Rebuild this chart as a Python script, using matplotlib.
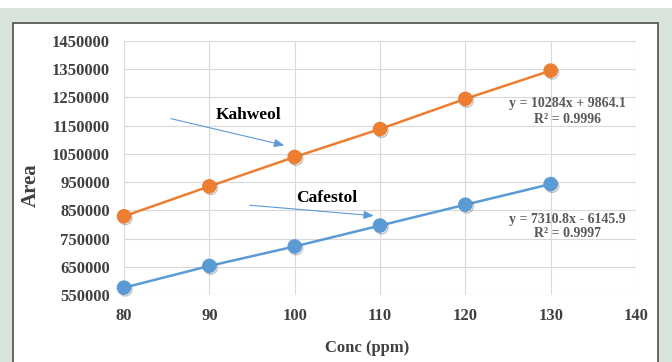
import matplotlib
matplotlib.use("Agg")
import matplotlib.pyplot as plt
import matplotlib.patheffects as pe
from matplotlib.patches import Rectangle

conc = [80, 90, 100, 110, 120, 130]
kahweol = [829000, 935000, 1039000, 1138000, 1245000, 1345000]
cafestol = [576000, 653000, 722000, 796000, 870000, 943000]
x_ticks = [80, 90, 100, 110, 120, 130, 140]
y_ticks = [550000, 650000, 750000, 850000, 950000, 1050000, 1150000, 1250000, 1350000, 1450000]
eq_kahweol = ["y = 10284x + 9864.1", "R² = 0.9996"]
eq_cafestol = ["y = 7310.8x - 6145.9", "R² = 0.9997"]

W, H = 672, 362
fig = plt.figure(figsize=(W / 100, H / 100), dpi=100)
fig.patch.set_facecolor("white")

def fx(px):
    return px / W

def fy(py):
    return 1 - py / H

# green background and white chart box
fig.patches.append(Rectangle((0, 0), 1, fy(8), transform=fig.transFigure,
                             facecolor="#d8e4da", edgecolor="none", zorder=0))
fig.patches.append(Rectangle((fx(13), -0.02), fx(658) - fx(13), fy(23) + 0.02,
                             transform=fig.transFigure, facecolor="white",
                             edgecolor="#595959", linewidth=1.3, zorder=1))

ax = fig.add_axes([fx(124), fy(295), fx(636) - fx(124), fy(41) - fy(295)])
ax.set_facecolor("none")
ax.set_zorder(2)

serif = "Liberation Serif"
orange = "#ED7D31"
blue = "#5B9BD5"
shadow = [pe.SimpleLineShadow(offset=(1.0, -1.2), alpha=0.3, shadow_color="#303030"), pe.Normal()]

ax.plot(conc, kahweol, color=orange, lw=1.8, zorder=3, clip_on=False)
ax.plot(conc, cafestol, color=blue, lw=1.8, zorder=3, clip_on=False)
ax.plot(conc, kahweol, ls="none", marker="o", ms=9.5, color=orange, zorder=4,
        path_effects=shadow, clip_on=False)
ax.plot(conc, cafestol, ls="none", marker="o", ms=9.5, color=blue, zorder=4,
        path_effects=shadow, clip_on=False)

ax.set_xlim(80, 140)
ax.set_ylim(550000, 1450000)
ax.set_xticks(x_ticks)
ax.set_yticks(y_ticks)
ax.set_xticklabels([str(v) for v in x_ticks])
ax.set_yticklabels([str(v) for v in y_ticks])
ax.grid(True, color="#d9d9d9", lw=0.8)
ax.set_axisbelow(True)
for s in ax.spines.values():
    s.set_visible(False)
ax.tick_params(length=0, labelsize=12, labelcolor="#404040")
ax.tick_params(axis="y", pad=10)
ax.tick_params(axis="x", pad=9)
for lab in ax.get_xticklabels() + ax.get_yticklabels():
    lab.set_fontfamily(serif)
    lab.set_fontweight("bold")

fig.text(fx(31), fy(185), "Area", rotation=90, ha="center", va="center",
         fontsize=15, fontweight="bold", family=serif, color="#404040")
fig.text(fx(367), fy(348), "Conc (ppm)", ha="center", va="center",
         fontsize=12, fontweight="bold", family=serif, color="#404040")

# labels and arrows
ax.text(94.65, 1187000, "Kahweol", ha="center", va="center", fontsize=12.5,
        fontweight="bold", family=serif, color="black")
ax.text(103.7, 893000, "Cafestol", ha="center", va="center", fontsize=12.5,
        fontweight="bold", family=serif, color="black")
ax.annotate("", xy=(99.1, 1078000), xytext=(85.2, 1177000),
            arrowprops=dict(arrowstyle="-|>,head_length=0.6,head_width=0.25",
                            color=blue, lw=0.8))
ax.annotate("", xy=(109.6, 830000), xytext=(94.4, 869000),
            arrowprops=dict(arrowstyle="-|>,head_length=0.6,head_width=0.25",
                            color=blue, lw=0.8))

ax.text(132.0, 1229000, eq_kahweol[0], ha="center", va="center", fontsize=10,
        fontweight="bold", family=serif, color="#595959")
ax.text(132.0, 1172000, eq_kahweol[1], ha="center", va="center", fontsize=10,
        fontweight="bold", family=serif, color="#595959")
ax.text(132.0, 816000, eq_cafestol[0], ha="center", va="center", fontsize=10,
        fontweight="bold", family=serif, color="#595959")
ax.text(132.0, 768000, eq_cafestol[1], ha="center", va="center", fontsize=10,
        fontweight="bold", family=serif, color="#595959")

fig.savefig("out.png", dpi=100)
